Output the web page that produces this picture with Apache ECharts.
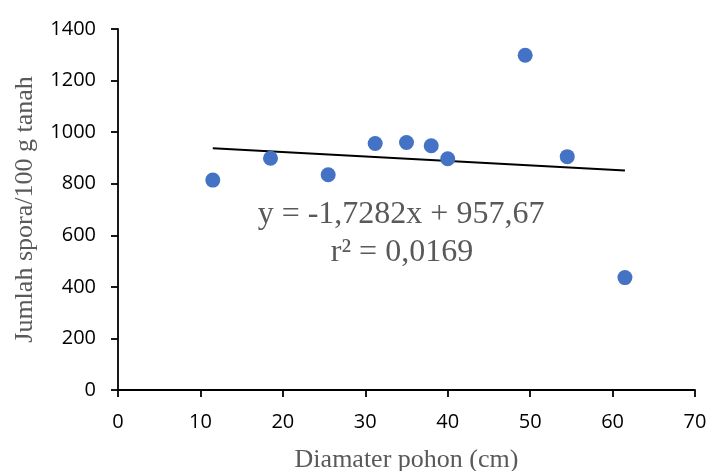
<!DOCTYPE html>
<html><head><meta charset="utf-8">
<script src="https://cdn.jsdelivr.net/npm/echarts@6/dist/echarts.min.js"></script>
<style>html,body{margin:0;padding:0;background:#fff}#c{width:710px;height:471px}</style>
</head><body><div id="c"></div>
<script>
const diameter = [11.5, 18.5, 25.5, 31.2, 35.0, 38.0, 40.0, 49.4, 54.5, 61.5];
const spora = [814, 899, 835, 956, 960, 947, 897, 1298, 905, 436];
const slope = -1.7282, intercept = 957.67;
const xTicks = {min: 0, max: 70, interval: 10};
const yTicks = {min: 0, max: 1400, interval: 200};
const eqText = 'y = -1,7282x + 957,67';
const r2Text = 'r² = 0,0169';

const xMin = Math.min(...diameter), xMax = Math.max(...diameter);
const trend = [[xMin, slope*xMin+intercept],[xMax, slope*xMax+intercept]];

const chart = echarts.init(document.getElementById('c'));
function axis(extra){
  return Object.assign({
    type:'value',
    axisLine:{show:true,lineStyle:{color:'#000',width:1.8}},
    axisTick:{show:true,length:7,lineStyle:{color:'#000',width:1.8}},
    splitLine:{show:false},
    axisLabel:{color:'#000',fontFamily:'Open Sans',fontSize:20,margin:22,formatter:v=>String(v)}
  }, extra);
}
chart.setOption({
  animation:false,
  grid:{left:118,right:15,top:29,bottom:81,containLabel:false,outerBoundsMode:'none'},
  xAxis:axis({min:xTicks.min,max:xTicks.max,interval:xTicks.interval,
    name:'Diamater pohon (cm)',nameLocation:'middle',nameGap:57,
    nameTextStyle:{color:'#595959',fontFamily:'Liberation Serif',fontSize:26}}),
  yAxis:axis({min:yTicks.min,max:yTicks.max,interval:yTicks.interval,
    name:'Jumlah spora/100 g tanah',nameLocation:'middle',nameGap:80,
    nameTextStyle:{color:'#595959',fontFamily:'Liberation Serif',fontSize:26}}),
  series:[
    {type:'line',data:trend,symbol:'none',lineStyle:{color:'#000',width:2},z:1},
    {type:'scatter',data:diameter.map((x,i)=>[x,spora[i]]),symbolSize:15,itemStyle:{color:'#4472C4',opacity:1},z:2}
  ],
  graphic:[
    {type:'text',x:401,y:215,style:{text:eqText,fill:'#595959',font:'32px "Liberation Serif"',align:'center',verticalAlign:'middle'}},
    {type:'text',x:402,y:253,style:{text:r2Text,fill:'#595959',font:'32px "Liberation Serif"',align:'center',verticalAlign:'middle'}}
  ]
});
</script></body></html>
